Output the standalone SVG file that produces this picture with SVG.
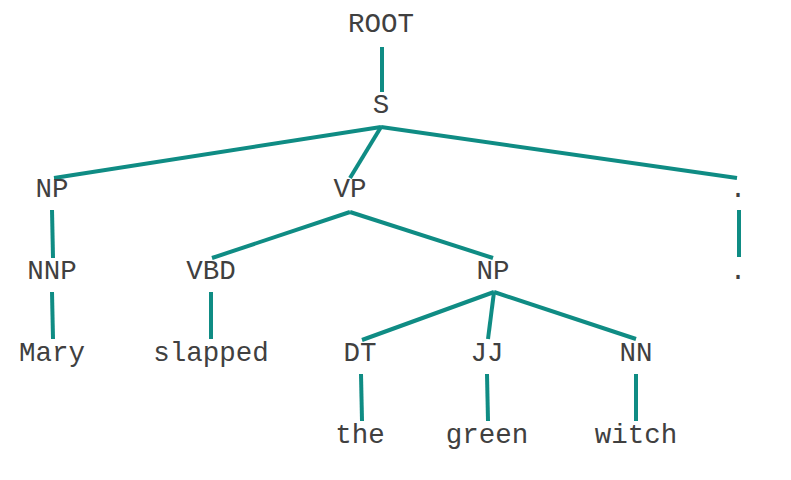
<svg xmlns="http://www.w3.org/2000/svg" width="791" height="480" viewBox="0 0 791 480">
<style>
text{font-family:"Courier New","Nimbus Mono PS","Liberation Mono",monospace;font-size:27.5px;fill:#404040;text-anchor:middle}
.e{stroke:#0f8c84;stroke-width:4;stroke-linecap:butt;fill:none}
</style>
<rect width="791" height="480" fill="#ffffff"/>
<g id="connectors">
<line class="e" x1="382" y1="47" x2="382" y2="92"/>
<line class="e" x1="381" y1="127" x2="54" y2="178"/>
<line class="e" x1="381" y1="127" x2="350" y2="178"/>
<line class="e" x1="381" y1="127" x2="737" y2="178"/>
<line class="e" x1="52" y1="210" x2="53" y2="258"/>
<line class="e" x1="350" y1="212" x2="212" y2="258"/>
<line class="e" x1="350" y1="212" x2="493" y2="258"/>
<line class="e" x1="739" y1="210" x2="739" y2="257"/>
<line class="e" x1="52" y1="292" x2="53" y2="339"/>
<line class="e" x1="211" y1="292" x2="211" y2="339"/>
<line class="e" x1="494" y1="292" x2="362" y2="340"/>
<line class="e" x1="494" y1="292" x2="488" y2="339"/>
<line class="e" x1="494" y1="292" x2="636" y2="339"/>
<line class="e" x1="361" y1="374" x2="362" y2="421"/>
<line class="e" x1="487" y1="374" x2="488" y2="421"/>
<line class="e" x1="636" y1="374" x2="636" y2="421"/>
</g>
<g id="n-root"><text x="381" y="32">ROOT</text></g>
<g id="n-s"><text x="381" y="113">S</text></g>
<g id="n-np1"><text x="52" y="197">NP</text></g>
<g id="n-vp"><text x="350" y="197">VP</text></g>
<g id="n-dot1"><text x="738" y="197">.</text></g>
<g id="n-nnp"><text x="52" y="279">NNP</text></g>
<g id="n-vbd"><text x="211" y="279">VBD</text></g>
<g id="n-np2"><text x="493" y="279">NP</text></g>
<g id="n-dot2"><text x="738" y="279">.</text></g>
<g id="n-mary"><text x="52" y="361">Mary</text></g>
<g id="n-slapped"><text x="211" y="361">slapped</text></g>
<g id="n-dt"><text x="360" y="361">DT</text></g>
<g id="n-jj"><text x="487" y="361">JJ</text></g>
<g id="n-nn"><text x="636" y="361">NN</text></g>
<g id="n-the"><text x="360" y="443">the</text></g>
<g id="n-green"><text x="487" y="443">green</text></g>
<g id="n-witch"><text x="636" y="443">witch</text></g>
</svg>
